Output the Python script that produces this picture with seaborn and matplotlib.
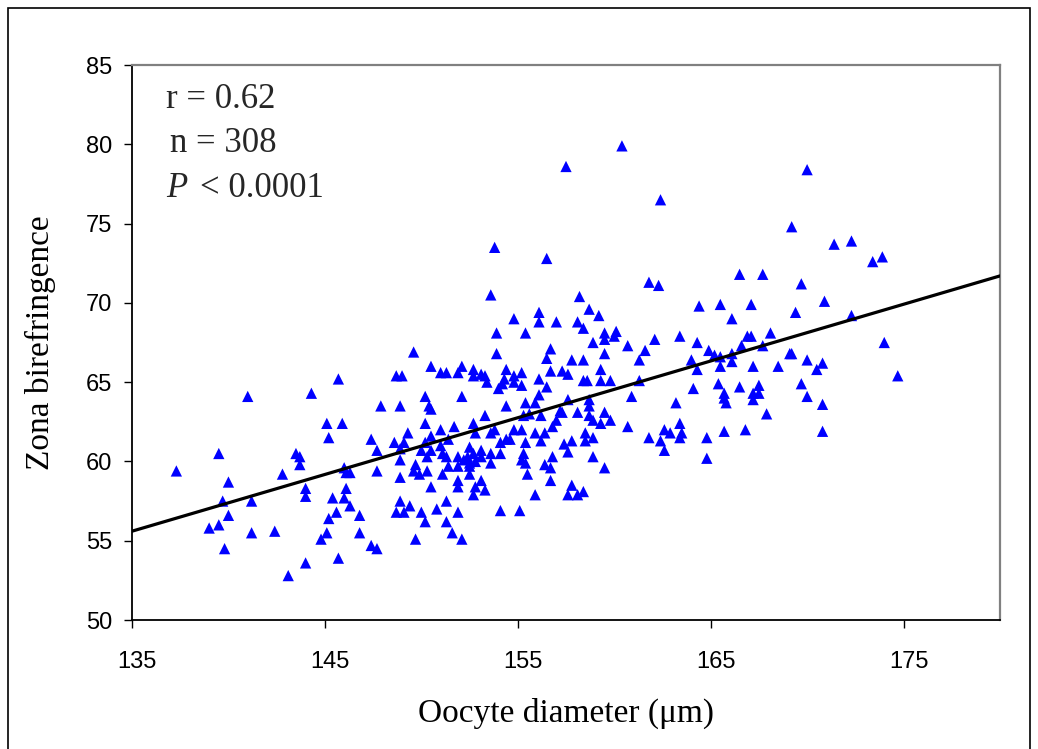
import matplotlib
matplotlib.use("Agg")
import matplotlib.pyplot as plt
import seaborn as sns
import pandas as pd
from matplotlib.patches import Rectangle
from matplotlib.transforms import ScaledTranslation

# ---- data ----
diameter_small = [145.7, 141.0, 144.3, 145.1, 145.9, 145.2, 139.5, 143.5, 143.7, 143.7,
                  137.3, 142.8, 146.0, 140.0, 146.1, 144.0, 144.0, 145.4, 146.0, 146.1,
                  139.7, 141.2, 146.3, 145.6, 145.2, 140.0, 139.5, 139.0, 141.2, 142.4,
                  145.1, 144.8, 139.8, 145.7, 144.0, 143.1]
biref_small = [65.2, 64.1, 64.3, 62.4, 62.4, 61.5, 60.5, 60.5, 60.3, 59.8,
               59.4, 59.2, 59.6, 58.7, 59.3, 58.3, 57.8, 57.7, 57.7, 58.3,
               57.5, 57.5, 57.2, 56.8, 56.4, 56.6, 56.0, 55.8, 55.5, 55.6,
               55.5, 55.1, 54.5, 53.9, 53.6, 52.8]

diameter_mid = [154.8, 153.9, 155.4, 149.6, 153.9, 148.7, 149.0, 150.5, 151.0, 151.3,
                151.9, 152.1, 152.7, 152.7, 153.1, 153.3, 153.4, 154.4, 154.3, 154.2,
                154.0, 154.8, 154.8, 155.2, 155.2, 150.2, 152.1, 147.9, 148.9, 150.4,
                150.5, 154.4, 155.4, 153.3, 150.2, 151.7, 152.7, 155.3, 149.3, 151.0,
                150.5, 147.4, 148.6, 149.1, 150.2, 151.4, 152.8, 153.6, 153.8, 154.8,
                155.2, 154.4, 154.1, 154.6, 155.4, 148.9, 147.7, 150.0, 150.5, 151.0,
                151.1, 152.5, 152.7, 153.1, 153.6, 154.1, 155.3, 150.3, 151.3, 151.9,
                152.2, 152.4, 152.5, 152.8, 153.1, 153.6, 155.2, 155.4, 148.9, 149.7,
                151.4, 151.9, 152.5, 146.3, 147.7, 149.6, 149.9, 150.3, 151.1, 152.5,
                148.9, 155.5, 150.5, 151.9, 151.9, 153.1, 152.8, 153.3, 146.8, 146.8,
                147.4, 147.7, 152.7, 148.9, 149.4, 148.7, 149.1, 150.0, 150.8, 151.3,
                151.9, 150.2, 151.3, 151.6, 152.1, 149.7, 154.1, 155.1, 153.6, 153.8]
biref_mid = [69.0, 68.1, 68.1, 66.9, 66.8, 65.4, 65.4, 66.0, 65.6, 65.6,
             65.6, 66.0, 65.8, 65.4, 65.5, 65.4, 65.0, 65.8, 65.2, 64.9,
             64.6, 65.4, 65.0, 65.6, 64.8, 64.1, 64.1, 63.5, 63.5, 63.5,
             63.3, 63.5, 63.7, 62.9, 62.4, 62.2, 62.4, 62.9, 61.8, 62.0,
             61.6, 61.4, 61.2, 61.2, 61.2, 61.4, 61.8, 61.8, 62.0, 62.0,
             62.0, 61.4, 61.2, 61.4, 61.2, 60.8, 60.7, 60.7, 60.7, 61.0,
             60.5, 60.9, 60.5, 60.7, 60.5, 60.5, 60.5, 60.3, 60.3, 60.3,
             60.1, 60.3, 59.9, 60.0, 60.3, 59.9, 60.1, 59.9, 60.1, 59.8,
             59.7, 59.7, 59.7, 59.3, 59.4, 59.4, 59.2, 59.4, 59.2, 59.2,
             59.0, 59.2, 58.4, 58.8, 58.4, 58.8, 58.4, 58.2, 56.6, 55.5,
             54.7, 54.5, 57.9, 57.5, 57.2, 56.8, 56.8, 56.8, 57.0, 57.5,
             56.8, 56.2, 56.2, 55.5, 55.1, 55.1, 56.9, 56.9, 70.5, 73.5]

diameter_upper = [160.4, 157.5, 162.4, 156.5, 161.8, 162.3, 158.2, 164.4, 156.1, 156.1,
                  158.7, 159.2, 157.0, 158.1, 158.4, 159.5, 160.1, 160.0, 159.5, 158.9,
                  160.7, 162.1, 163.4, 164.3, 164.9, 156.7, 156.5, 161.6, 161.3, 159.5,
                  157.8, 158.4, 164.0, 164.3, 156.7, 157.3, 157.6, 159.3, 156.1, 158.4,
                  158.6, 159.3, 159.8, 156.5, 161.3, 164.1, 156.1, 155.9, 157.6, 158.7,
                  160.9, 163.2, 158.7, 157.2, 157.3, 158.1, 158.7, 159.5, 155.6, 156.2,
                  157.0, 158.9, 159.3, 159.8, 156.8, 160.7, 163.4, 155.9, 156.4, 158.5,
                  162.6, 162.9, 163.5, 158.9, 158.5, 157.8, 157.4, 156.2, 161.8, 162.4,
                  163.4, 164.8, 162.6, 157.6, 156.8, 158.9, 164.8, 156.4, 156.7, 159.5,
                  156.7, 157.8, 155.9, 157.6, 158.1, 158.4]
biref_upper = [79.9, 78.6, 76.5, 72.8, 71.3, 71.1, 70.4, 69.8, 69.4, 68.8,
               69.6, 69.2, 68.8, 68.8, 68.4, 68.1, 68.2, 67.9, 67.7, 67.5,
               67.3, 67.7, 67.9, 67.5, 67.0, 67.1, 66.5, 67.0, 66.4, 66.8,
               66.4, 66.4, 66.4, 65.8, 65.7, 65.7, 65.5, 65.8, 65.2, 65.1,
               65.1, 65.1, 65.1, 64.7, 65.1, 64.6, 64.2, 63.7, 63.9, 63.9,
               64.1, 63.7, 63.5, 63.2, 63.1, 63.1, 62.9, 63.1, 63.0, 62.9,
               62.6, 62.6, 62.4, 62.6, 62.2, 62.2, 62.4, 61.8, 61.8, 61.8,
               62.0, 61.8, 61.8, 61.5, 61.3, 61.3, 61.1, 61.3, 61.5, 61.3,
               61.5, 61.5, 60.7, 60.6, 60.3, 60.3, 60.2, 59.8, 59.6, 59.6,
               58.8, 58.5, 57.9, 57.9, 57.9, 58.1]

diameter_large = [170.0, 169.2, 171.4, 172.3, 173.4, 173.9, 166.5, 167.7, 169.7, 170.9,
                  165.5, 167.1, 169.4, 172.3, 166.1, 166.9, 167.1, 168.1, 166.6, 167.7,
                  174.0, 165.2, 165.5, 166.1, 166.1, 169.1, 169.2, 170.0, 170.8, 170.5,
                  165.5, 167.2, 168.5, 174.7, 165.4, 166.5, 167.5, 167.2, 167.5, 167.2,
                  165.7, 165.7, 165.8, 169.7, 170.0, 170.8, 167.9, 165.7, 166.8, 170.8]
biref_large = [78.4, 74.8, 73.7, 73.9, 72.6, 72.9, 71.8, 71.8, 71.2, 70.1,
               69.9, 69.9, 69.4, 69.2, 69.0, 67.9, 67.9, 68.1, 67.3, 67.3,
               67.5, 66.7, 66.6, 66.8, 66.3, 66.8, 66.8, 66.4, 66.2, 65.8,
               66.0, 66.0, 66.0, 65.4, 64.9, 64.7, 64.8, 64.3, 64.3, 63.9,
               64.3, 64.0, 63.7, 64.9, 64.1, 63.6, 63.0, 61.9, 62.0, 61.9]

fit_diameter = [135, 180]
fit_birefringence = [55.6, 71.7]

x_ticks = [135, 145, 155, 165, 175]
y_ticks = [50, 55, 60, 65, 70, 75, 80, 85]
x_title = "Oocyte diameter (\u03bcm)"
y_title = "Zona birefringence"
stat_r = "r = 0.62"
stat_n = "n = 308"
stat_p_symbol = "P"
stat_p_value = "< 0.0001"

df = pd.DataFrame({
    "diameter": diameter_small + diameter_mid + diameter_upper + diameter_large,
    "birefringence": biref_small + biref_mid + biref_upper + biref_large,
})
fit_df = pd.DataFrame({"diameter": fit_diameter, "birefringence": fit_birefringence})

sns.set_theme(style="white")
plt.rcParams["font.family"] = ["Liberation Sans", "DejaVu Sans"]

fig = plt.figure(figsize=(10.38, 7.49), dpi=100)
fig.patch.set_facecolor("white")
ax = fig.add_axes([132 / 1038, 1 - 620 / 749, 868 / 1038, 555 / 749])

sns.scatterplot(data=df, x="diameter", y="birefringence", marker="^", s=66,
                color="#0000FF", edgecolor="none", linewidth=0, ax=ax, zorder=3)
sns.lineplot(data=fit_df, x="diameter", y="birefringence", color="black",
             linewidth=2.3, ax=ax, zorder=4)

ax.set_xlim(135, 180)
ax.set_ylim(50, 85)
ax.set_xticks(x_ticks)
ax.set_yticks(y_ticks)
ax.set_xticklabels([str(t) for t in x_ticks])
ax.set_yticklabels([str(t) for t in y_ticks])
ax.tick_params(axis="both", which="major", direction="out", length=6, width=1,
               color="black", labelsize=17, labelcolor="black",
               bottom=True, left=True)
ax.tick_params(axis="x", pad=16)
ax.tick_params(axis="y", pad=8)
shift = ScaledTranslation(5 / 100, 0, fig.dpi_scale_trans)
for lbl in ax.get_xticklabels():
    lbl.set_transform(lbl.get_transform() + shift)

for side in ["left", "bottom"]:
    ax.spines[side].set_color("black")
    ax.spines[side].set_linewidth(1.3)
for side in ["top", "right"]:
    ax.spines[side].set_color("#808080")
    ax.spines[side].set_linewidth(1.6)
ax.grid(False)

serif = ["Liberation Serif", "DejaVu Serif"]
ax.set_xlabel(x_title, fontsize=24, family=serif, color="black", labelpad=18)
ax.set_ylabel(y_title, fontsize=24, family=serif, color="black", labelpad=22)

ax.text(0.039, 0.937, stat_r, transform=ax.transAxes, fontsize=25, family=serif,
        va="center", ha="left")
ax.text(0.044, 0.859, stat_n, transform=ax.transAxes, fontsize=25, family=serif,
        va="center", ha="left")
ax.text(0.039, 0.778, stat_p_symbol, transform=ax.transAxes, fontsize=25, family=serif,
        style="italic", va="center", ha="left")
ax.text(0.078, 0.778, stat_p_value, transform=ax.transAxes, fontsize=25, family=serif,
        va="center", ha="left")

fig.add_artist(Rectangle((8 / 1038, -0.02), (1030 - 8) / 1038, 1 - 8 / 749 + 0.02,
                         transform=fig.transFigure, fill=False, edgecolor="black",
                         linewidth=1.2))

fig.savefig("out.png", dpi=100, facecolor="white")
